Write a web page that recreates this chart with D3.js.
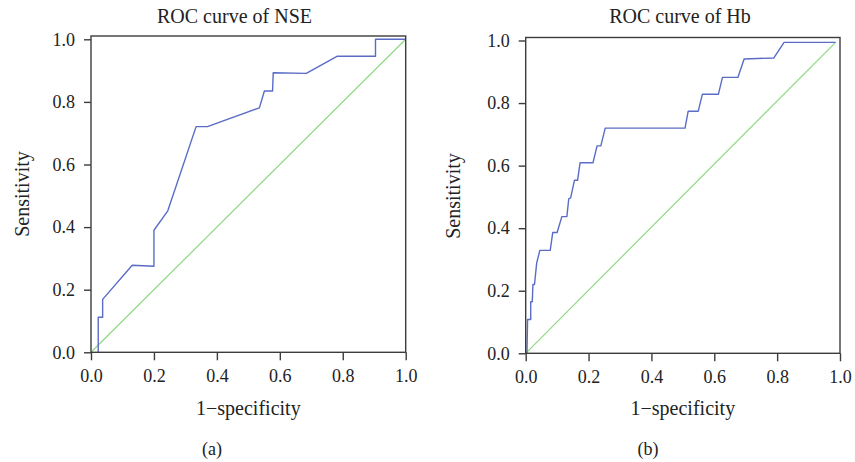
<!DOCTYPE html>
<html>
<head>
<meta charset="utf-8">
<script src="https://cdn.jsdelivr.net/npm/d3@7"></script>
<style>
  body { margin: 0; background: #fff; }
  svg { display: block; }
  text { font-family: "Liberation Serif", "Times New Roman", serif; fill: #222; }
</style>
</head>
<body>
<svg width="855" height="462"></svg>
<script>
// data
var tickValues = [0, 0.2, 0.4, 0.6, 0.8, 1.0];

var nseFpr = [0.023, 0.023, 0.037, 0.037, 0.131, 0.200, 0.200, 0.244, 0.334, 0.370, 0.535, 0.551, 0.577, 0.579, 0.684, 0.783, 0.904, 0.904, 1.000];
var nseTpr = [0.000, 0.112, 0.112, 0.169, 0.278, 0.275, 0.390, 0.452, 0.721, 0.721, 0.781, 0.835, 0.835, 0.893, 0.891, 0.946, 0.946, 1.000, 1.000];
var nseRefX = [0, 1];
var nseRefY = [0, 1];

var hbFpr = [0.004, 0.006, 0.016, 0.016, 0.021, 0.023, 0.028, 0.035, 0.045, 0.078, 0.086, 0.100, 0.115, 0.131, 0.137, 0.143, 0.155, 0.165, 0.173, 0.214, 0.227, 0.239, 0.253, 0.507, 0.517, 0.549, 0.562, 0.613, 0.626, 0.675, 0.695, 0.789, 0.822, 0.986];
var hbTpr = [0.000, 0.108, 0.108, 0.165, 0.165, 0.220, 0.220, 0.289, 0.329, 0.329, 0.386, 0.386, 0.437, 0.437, 0.494, 0.497, 0.553, 0.553, 0.609, 0.609, 0.663, 0.663, 0.720, 0.720, 0.774, 0.774, 0.828, 0.828, 0.882, 0.882, 0.941, 0.944, 0.994, 0.994];
var hbRefX = [0, 0.986];
var hbRefY = [0, 0.994];

var panels = [
  { title: 'ROC curve of NSE', tag: '(a)', fpr: nseFpr, tpr: nseTpr, refX: nseRefX, refY: nseRefY,
    left: 91, right: 405.7, bottom: 352.3, top: 39.3, frameTop: 36,
    titleX: 234.5, ylabX: 29, ylabY: 194, tagX: 212 },
  { title: 'ROC curve of Hb', tag: '(b)', fpr: hbFpr, tpr: hbTpr, refX: hbRefX, refY: hbRefY,
    left: 525.7, right: 840, bottom: 353.3, top: 40.5, frameTop: 37.5,
    titleX: 680, ylabX: 460, ylabY: 196, tagX: 648 }
];

var svg = d3.select('svg');

function drawPanel(p){
  var x = d3.scaleLinear().domain([0, 1]).range([p.left, p.right]);
  var y = d3.scaleLinear().domain([0, 1]).range([p.bottom, p.top]);
  var g = svg.append('g');

  var line = d3.line()
    .x(function(d){ return x(d[0]); })
    .y(function(d){ return y(d[1]); });

  // reference diagonal
  g.append('path')
    .datum(d3.zip(p.refX, p.refY))
    .attr('d', line)
    .attr('fill', 'none')
    .attr('stroke', '#8fd883')
    .attr('stroke-width', 1.2);

  // roc curve
  g.append('path')
    .datum(d3.zip(p.fpr, p.tpr))
    .attr('d', line)
    .attr('fill', 'none')
    .attr('stroke', '#5a6cc6')
    .attr('stroke-width', 1.4)
    .attr('stroke-linejoin', 'round');

  // frame
  g.append('rect')
    .attr('x', p.left)
    .attr('y', p.frameTop)
    .attr('width', p.right - p.left)
    .attr('height', p.bottom - p.frameTop)
    .attr('fill', 'none')
    .attr('stroke', '#3c3c3c')
    .attr('stroke-width', 1.4);

  var fmt = d3.format('.1f');
  var ax = g.append('g')
    .attr('transform', 'translate(0,' + p.bottom + ')')
    .call(d3.axisBottom(x).tickValues(tickValues).tickFormat(fmt).tickSize(8).tickPadding(9));
  var ay = g.append('g')
    .attr('transform', 'translate(' + p.left + ',0)')
    .call(d3.axisLeft(y).tickValues(tickValues).tickFormat(fmt).tickSize(7).tickPadding(9));

  [ax, ay].forEach(function(a){
    a.select('.domain').remove();
    a.attr('font-family', null).attr('font-size', null);
    a.selectAll('line').attr('stroke', '#3c3c3c').attr('stroke-width', 1.4);
    a.selectAll('text').attr('font-size', 18).attr('fill', '#222');
  });

  g.append('text')
    .attr('x', p.titleX).attr('y', 23)
    .attr('text-anchor', 'middle')
    .attr('font-size', 20)
    .text(p.title);

  g.append('text')
    .attr('x', (p.left + p.right) / 2).attr('y', 415)
    .attr('text-anchor', 'middle')
    .attr('font-size', 20)
    .text('1\u2212specificity');

  g.append('text')
    .attr('transform', 'translate(' + p.ylabX + ',' + p.ylabY + ') rotate(-90)')
    .attr('text-anchor', 'middle')
    .attr('font-size', 20)
    .text('Sensitivity');

  g.append('text')
    .attr('x', p.tagX).attr('y', 455)
    .attr('text-anchor', 'middle')
    .attr('font-size', 18)
    .text(p.tag);
}

panels.forEach(drawPanel);
</script>
</body>
</html>
